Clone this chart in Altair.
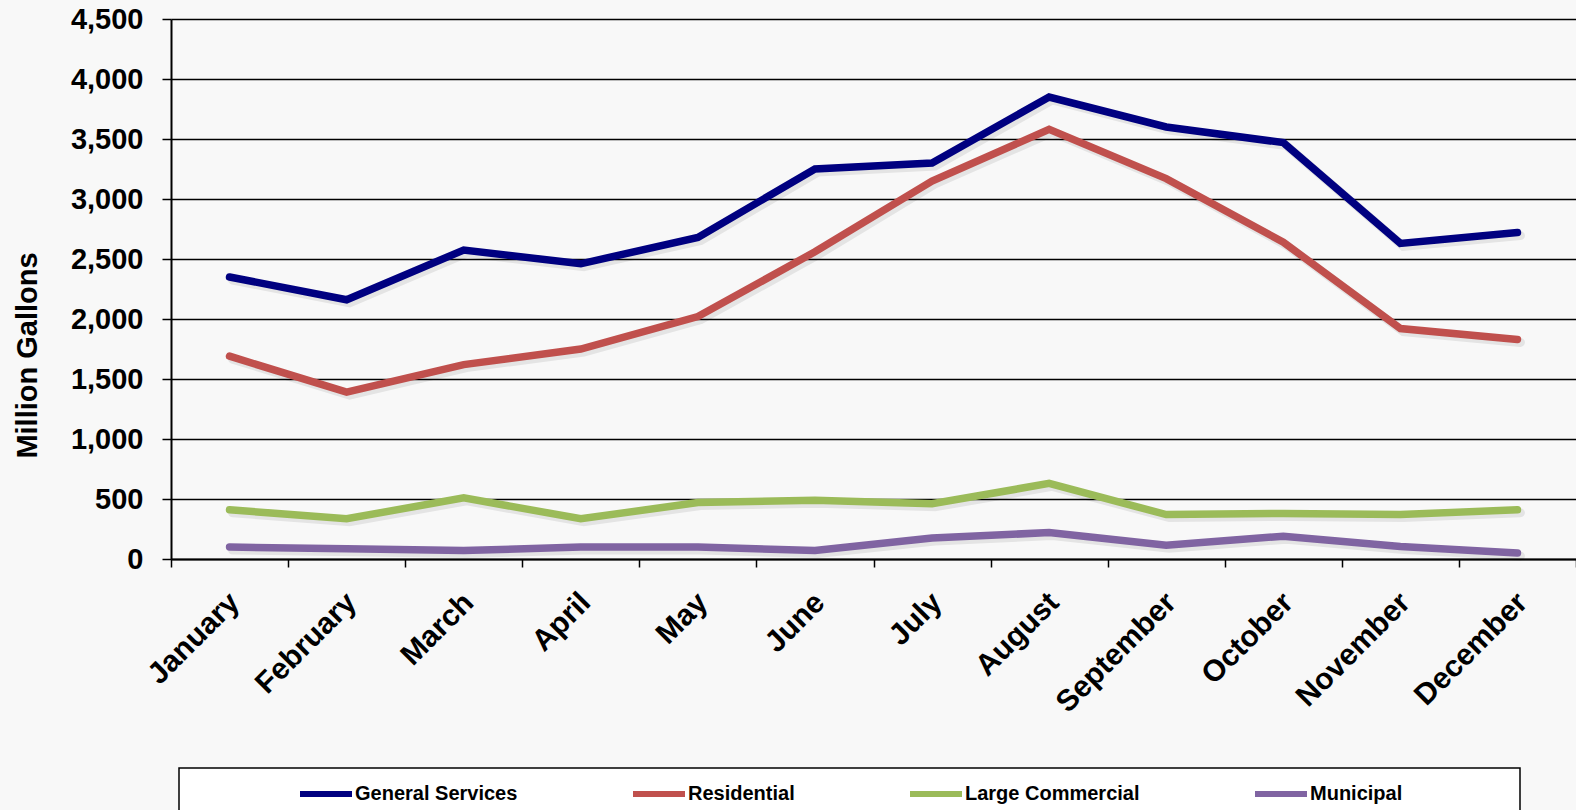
import altair as alt
import pandas as pd

months = ["January", "February", "March", "April", "May", "June", "July",
          "August", "September", "October", "November", "December"]
series_names = ["General Services", "Residential", "Large Commercial", "Municipal"]
series_colors = ["#000080", "#C0504D", "#9BBB59", "#8064A2"]

general_services = [2350, 2160, 2575, 2460, 2680, 3250, 3300, 3850, 3600, 3470, 2630, 2720]
residential = [1690, 1390, 1620, 1750, 2020, 2560, 3150, 3580, 3170, 2640, 1920, 1830]
large_commercial = [410, 335, 510, 335, 470, 490, 460, 630, 370, 380, 370, 410]
municipal = [100, 85, 70, 100, 100, 70, 175, 220, 115, 190, 105, 50]

y_ticks = [0, 500, 1000, 1500, 2000, 2500, 3000, 3500, 4000, 4500]

rows = []
for name, vals in zip(series_names, [general_services, residential, large_commercial, municipal]):
    for m, v in zip(months, vals):
        rows.append({"Month": m, "Series": name, "Value": v})
df = pd.DataFrame(rows)

FONT = "Liberation Sans"

x_enc = alt.X(
    "Month:N", sort=months, bandPosition=0.5,
    scale=alt.Scale(type="band", paddingInner=0, paddingOuter=0),
    axis=alt.Axis(
        title=None, labelAngle=-45, labelAlign="right", labelBaseline="top",
        labelFont=FONT, labelFontWeight="bold", labelFontSize=30, labelColor="black",
        labelPadding=20, labelOffset=-6, tickBand="extent", tickSize=8, tickColor="black",
        tickWidth=1.5, domainColor="black", domainWidth=2, grid=False,
    ),
)
y_enc = alt.Y(
    "Value:Q",
    scale=alt.Scale(domain=[0, 4500], nice=False),
    axis=alt.Axis(
        values=y_ticks, format=",d", title="Million Gallons",
        titleFont=FONT, titleFontWeight="bold", titleFontSize=29, titleColor="black",
        titleAngle=270, titleX=-135, titleY=336, titleAlign="center", titleBaseline="alphabetic",
        labelFont=FONT, labelFontWeight="bold", labelFontSize=29, labelColor="black",
        labelPadding=19, tickSize=9, tickColor="black", tickWidth=1.5,
        gridColor="black", gridWidth=1.4, gridOpacity=1,
        domainColor="black", domainWidth=2,
    ),
)

shadow = alt.Chart(df).mark_line(
    strokeWidth=9, strokeCap="round", color="#000000", opacity=0.08, xOffset=3, yOffset=3
).encode(x=x_enc, y=y_enc, detail="Series:N")

lines = alt.Chart(df).mark_line(strokeWidth=7.5, strokeCap="round", strokeJoin="miter").encode(
    x=x_enc, y=y_enc,
    color=alt.Color(
        "Series:N", sort=series_names,
        scale=alt.Scale(domain=series_names, range=series_colors),
        legend=alt.Legend(
            title=None, orient="none", legendX=126, legendY=746, direction="horizontal",
            columns=4, columnPadding=103, symbolType="stroke", symbolSize=2704,
            symbolStrokeWidth=6, labelFont=FONT, labelFontSize=20, labelFontWeight="bold",
            labelColor="black", labelOffset=0, labelLimit=400,
        ),
    ),
)

box = alt.Chart(pd.DataFrame({"a": [0]})).mark_rect(
    fill="white", stroke="black", strokeWidth=1.5
).encode(
    x=alt.value(8), x2=alt.value(1349), y=alt.value(749), y2=alt.value(800)
)

chart = alt.layer(shadow, lines, box).properties(
    width=1405, height=540,
    padding={"left": 171, "top": 19, "right": 0, "bottom": 251},
    autosize=alt.AutoSizeParams(type="none"),
    background="#f8f8f8",
).configure_view(stroke=None, fill="#f8f8f8")

chart.save("out.html", embed_options={"renderer": "svg", "actions": False})
